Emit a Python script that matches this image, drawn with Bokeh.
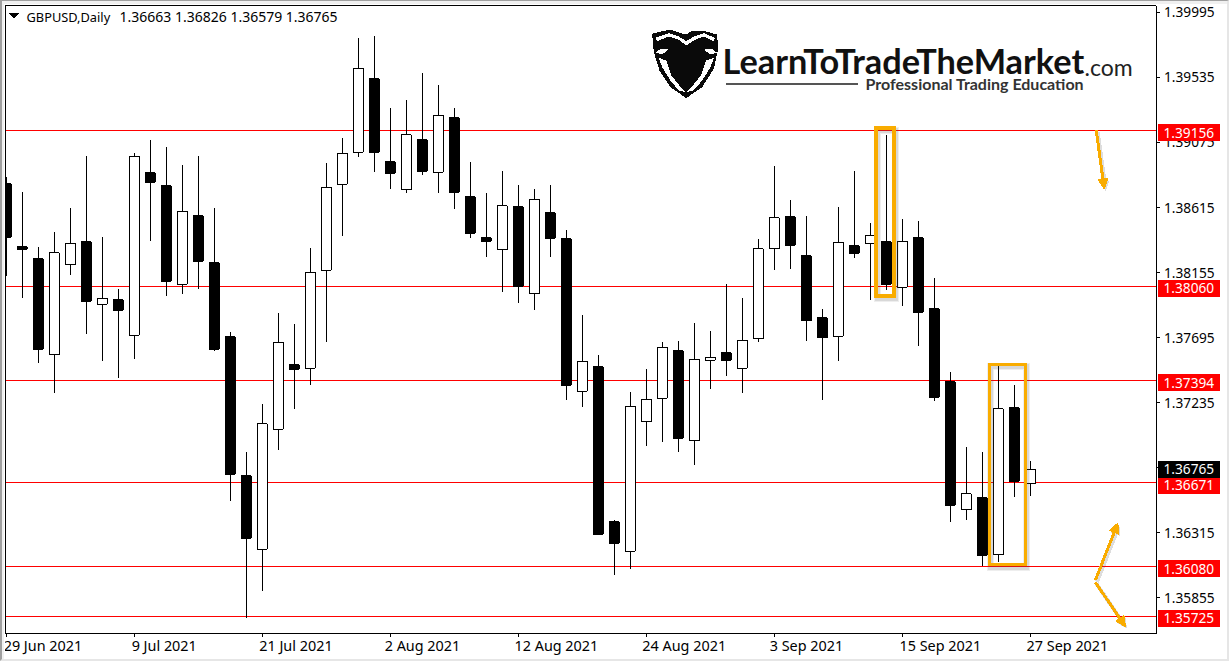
from bokeh.plotting import figure
from bokeh.models import Label, FixedTicker, Range1d, Arrow, NormalHead, PolyAnnotation, BoxAnnotation
from bokeh.embed import file_html
from bokeh.resources import INLINE

# ---------- data ----------
date_ticks = [0, 8, 16, 24, 32, 40, 48, 56, 64]
date_labels = ["29 Jun 2021", "9 Jul 2021", "21 Jul 2021", "2 Aug 2021", "12 Aug 2021",
               "24 Aug 2021", "3 Sep 2021", "15 Sep 2021", "27 Sep 2021"]
date_label_centres = [2.31, 9.89, 18.12, 26.03, 34.40, 42.39, 50.03, 58.40, 66.34]
body_top = [1.38783,1.38338,1.38253,1.38294,1.38364,1.38373,1.37975,1.37963,1.38979,1.38861,
            1.38769,1.38590,1.38557,1.38225,1.37702,1.36719,1.37085,1.37664,1.37504,1.38159,
            1.38760,1.39000,1.39601,1.39526,1.38939,1.39128,1.39094,1.39269,1.39250,1.38691,
            1.38402,1.38626,1.38621,1.38675,1.38578,1.38395,1.37530,1.37490,1.36394,1.37212,
            1.37261,1.37629,1.37603,1.37544,1.37558,1.37589,1.37678,1.38322,1.38541,1.38550,
            1.38274,1.37836,1.38371,1.38345,1.38416,1.38373,1.38378,1.38402,1.37900,1.37384,
            1.36590,1.36564,1.37191,1.37200,1.36765]
body_bot = [1.38404,1.38319,1.37612,1.37573,1.38209,1.37951,1.37933,1.37888,1.37711,1.38793,
            1.38093,1.38071,1.38234,1.37612,1.36728,1.36276,1.36198,1.37046,1.37471,1.37480,
            1.38173,1.38781,1.39007,1.39005,1.38856,1.38739,1.38870,1.38866,1.38722,1.38432,
            1.38375,1.38315,1.38057,1.38004,1.38397,1.37357,1.37318,1.36304,1.36241,1.36187,
            1.37099,1.37268,1.36983,1.36965,1.37537,1.37534,1.37480,1.37686,1.38322,1.38347,
            1.37815,1.37695,1.37704,1.38291,1.38364,1.38071,1.38053,1.37874,1.37273,1.36509,
            1.36477,1.36156,1.36159,1.36679,1.36663]
highs = [1.38833,1.38727,1.38338,1.38444,1.38614,1.38981,1.38409,1.38041,1.39002,1.39094,
         1.39045,1.38918,1.38981,1.38614,1.37732,1.36889,1.37228,1.37871,1.37794,1.38331,
         1.38932,1.39108,1.39815,1.39830,1.39321,1.39377,1.39568,1.39483,1.39321,1.38939,
         1.38720,1.38875,1.38776,1.38748,1.38776,1.38458,1.37857,1.37575,1.36408,1.37313,
         1.37476,1.37666,1.37673,1.37801,1.37744,1.38076,1.37977,1.38395,1.38911,1.38670,
         1.38557,1.37900,1.38621,1.38875,1.38508,1.39130,1.38536,1.38522,1.38119,1.37454,
         1.36924,1.36889,1.37497,1.37362,1.36826]
lows = [1.38128,1.37973,1.37513,1.37301,1.38135,1.37718,1.37527,1.37407,1.37541,1.38375,
        1.37987,1.38001,1.38036,1.37598,1.36538,1.35710,1.35901,1.36898,1.37188,1.37357,
        1.37661,1.38416,1.38969,1.38868,1.38743,1.38715,1.38842,1.38715,1.38602,1.38397,
        1.38262,1.38015,1.37937,1.37893,1.38262,1.37251,1.37202,1.36302,1.36014,1.36057,
        1.36926,1.36955,1.36884,1.36792,1.37329,1.37421,1.37301,1.37661,1.38170,1.38178,
        1.37669,1.37256,1.37527,1.38255,1.37958,1.38029,1.37916,1.37633,1.37249,1.36394,
        1.36403,1.36083,1.36111,1.36566,1.36579]
white = [0,0,0,1,1,0,1,0,1,0, 0,1,0,0,0,0,1,1,0,1, 1,1,1,0,0,1,0,1,0,0,
         0,1,0,1,0,0,1,0,0,1, 1,1,0,1,1,0,1,1,1,0, 0,0,1,0,1,0,1,0,0,0,
         1,0,1,0,1]
levels = [1.39156, 1.38060, 1.37394, 1.36671, 1.36080, 1.35725]
level_label_shift = [2.0, 2.0, 2.5, 2.5, 2.5, 2.0]
y_ticks = [1.39995, 1.39535, 1.39075, 1.38615, 1.38155, 1.37695, 1.37235, 1.36775, 1.36315, 1.35855]
last_price = 1.36765
ohlc_text = "1.36663 1.36826 1.36579 1.36765"
symbol_text = "GBPUSD,Daily"
# highlighted candles: left index, right index, top price, bottom price
hl_left = [54.40, 61.44]
hl_right = [55.47, 63.69]
hl_top = [1.39179, 1.37507]
hl_bottom = [1.37992, 1.36090]
hl_width = [4, 3]
# arrows: tail index, tail price, head index, head price
ar_x0 = [68.14, 68.09, 68.09]
ar_y0 = [1.39163, 1.35982, 1.35965]
ar_x1 = [68.64, 69.49, 69.97]
ar_y1 = [1.38746, 1.36385, 1.35652]

ORANGE = "#F9AC00"
FONT = "Noto Sans"
PRICE_FS = "13.7px"
W, H = 1229, 661
PANE_L, PANE_T, PANE_R, PANE_B = 4, 4, 1155, 632   # chart pane edges in page pixels
PX = 16.0                          # pixels per candle
PY = 0.00007069                    # price per pixel
BASE = 1.400785                    # price at the top of the page
x0 = -5.5 / PX
pane_right = (PANE_R + 0.5 - 5.5) / PX
pane_left = (PANE_L + 0.5 - 5.5) / PX
pane_bottom = BASE - (PANE_B + 0.5) * PY
pane_top = BASE - (PANE_T + 0.5) * PY

p = figure(width=W, height=H, output_backend="svg", toolbar_location=None,
           x_range=Range1d(x0, x0 + W / PX), y_range=Range1d(BASE - H * PY, BASE),
           y_axis_location="right", tools="")
p.min_border_left = p.min_border_top = p.min_border_right = p.min_border_bottom = 0
p.background_fill_color = "white"
p.border_fill_color = "white"
p.outline_line_color = None
p.grid.visible = False
p.stylesheets = [":host{shape-rendering:crispEdges}",
                 ":host::after{content:'';position:absolute;inset:0;border-style:solid;"
                 "border-width:1px 2px 2px 2px;border-color:#a0a0a0 #e6e6e6 #e6e6e6 #a0a0a0;"
                 "box-shadow:inset 2px 3px 0 #f0f0f0;pointer-events:none}"]

# axes: the left-aligned date labels are placed through centres, tick marks through the minor ticks
xa = p.xaxis[0]
xa.fixed_location = pane_bottom
xa.bounds = (pane_left, pane_right)
xa.ticker = FixedTicker(ticks=date_label_centres, minor_ticks=date_ticks)
xa.major_label_overrides = dict(zip(date_label_centres, date_labels))
xa.major_label_standoff = 0
xa.major_tick_out, xa.major_tick_in, xa.minor_tick_out, xa.minor_tick_in = 0, 0, 3, 0
xa.major_label_text_font_size = "14.4px"
xa.minor_tick_line_color = "black"
xa.major_tick_line_color = None
ya = p.yaxis[0]
ya.fixed_location = pane_right
ya.bounds = (pane_bottom, pane_top)
ya.ticker = FixedTicker(ticks=y_ticks)
ya.major_label_overrides = {t: f"{t:.5f}" for t in y_ticks}
ya.major_label_overrides[1.36775] = ""
ya.major_label_standoff = 5
ya.major_tick_out, ya.major_tick_in, ya.minor_tick_out, ya.minor_tick_in = 3, 0, 0, 0
ya.major_label_text_font_size = PRICE_FS
ya.major_tick_line_color = "black"
for a in (xa, ya):
    a.axis_line_color = "black"
    a.major_label_text_font = FONT
    a.major_label_text_color = "black"

# horizontal levels behind the candles
for lv in levels:
    p.segment([pane_left], [lv], [pane_right], [lv], line_color="#FF0000", line_width=1)

# candles
xs = list(range(len(white)))
p.segment(xs, highs, xs, lows, line_color="black", line_width=1)
up = [i for i in xs if white[i]]
dn = [i for i in xs if not white[i]]
BW = 10 / PX
p.vbar([xs[i] for i in up], BW, [body_top[i] for i in up], [body_bot[i] for i in up],
       fill_color="white", line_color="black", line_width=1)
p.vbar([xs[i] for i in dn], BW, [body_top[i] for i in dn], [body_bot[i] for i in dn],
       fill_color="black", line_color="black", line_width=1)

# highlight rectangles with soft shadow
for shadow_w, shadow_a in ((7, 0.10), (5, 0.14)):
    for i in range(2):
        p.quad(left=[hl_left[i] + 1.5 / PX], right=[hl_right[i] + 1.5 / PX],
               top=[hl_top[i] - 2.5 * PY], bottom=[hl_bottom[i] - 2.5 * PY],
               fill_alpha=0, line_color="#555555", line_alpha=shadow_a, line_width=shadow_w, line_join="miter")
for i in range(2):
    p.quad(left=[hl_left[i]], right=[hl_right[i]], top=[hl_top[i]], bottom=[hl_bottom[i]],
           fill_alpha=0, line_color=ORANGE, line_width=hl_width[i], line_join="miter")

# arrows
for i in range(3):
    p.add_layout(Arrow(x_start=ar_x0[i] + 1.5 / PX, y_start=ar_y0[i] - 2 * PY,
                       x_end=ar_x1[i] + 1.5 / PX, y_end=ar_y1[i] - 2 * PY,
                       line_color="#555555", line_alpha=0.2, line_width=4,
                       end=NormalHead(size=10, fill_color="#555555", fill_alpha=0.2, line_alpha=0)))
    p.add_layout(Arrow(x_start=ar_x0[i], y_start=ar_y0[i], x_end=ar_x1[i], y_end=ar_y1[i],
                       line_color=ORANGE, line_width=3,
                       end=NormalHead(size=10, fill_color=ORANGE, line_color=ORANGE, line_width=1)))

def canvas_box(l, r, t, b, color):
    p.add_layout(BoxAnnotation(left=l, right=r, top=t, bottom=b, left_units="canvas", right_units="canvas",
                               top_units="canvas", bottom_units="canvas", fill_color=color, fill_alpha=1, line_alpha=0))

# pane edge: hides what lies left of the pane, draws its left and top lines
canvas_box(0, PANE_L, 0, H, "white")
canvas_box(PANE_L, PANE_L + 1, PANE_T, PANE_B + 1, "black")
canvas_box(PANE_L, PANE_R, PANE_T, PANE_T + 1, "black")

# price labels on the axis
def price_label(price, bg, shift):
    p.add_layout(BoxAnnotation(left=1157, right=1219, left_units="canvas", right_units="canvas",
                               top=price + (8.5 - shift) * PY, bottom=price - (8.5 + shift) * PY,
                               fill_color=bg, fill_alpha=1, line_alpha=0))
    p.add_layout(Label(x=1163, y=price, x_units="canvas", y_units="data", text=f"{price:.5f}",
                       y_offset=-shift, text_color="white", text_font=FONT, text_font_size=PRICE_FS,
                       text_align="left", text_baseline="middle"))
for lv, sh in zip(levels, level_label_shift):
    price_label(lv, "#FF0000", sh)
price_label(last_price, "#000000", 0)

def canvas_text(x, y, text, size, style="normal", color="black", font=FONT):
    p.add_layout(Label(x=x, y=y, x_units="canvas", y_units="canvas", text=text, text_color=color,
                       text_font=font, text_font_size=size, text_font_style=style,
                       text_align="left", text_baseline="middle"))

canvas_text(26, 16, symbol_text, "12.8px")
canvas_text(119, 16, ohlc_text, "14px")
p.add_layout(PolyAnnotation(xs=[8, 19, 13.5], ys=[12, 12, 18], xs_units="canvas", ys_units="canvas",
                            fill_color="black", fill_alpha=1, line_alpha=0))

# logo
canvas_text(722, 60, "LearnToTradeTheMarket", "34.3px", "bold", "#111111", "Lato")
canvas_text(1084, 66, ".com", "23px", "normal", "#222222", "Lato")
canvas_text(865, 83, "Professional Trading Education", "16px", "bold", "#333333", "Lato")
canvas_box(725, 857, 82, 84, "#555555")

def logo_poly(pts, color):
    p.add_layout(PolyAnnotation(xs=[645 + a / 3 for a, b in pts], ys=[20 + b / 3 for a, b in pts],
                                xs_units="canvas", ys_units="canvas", fill_color=color, fill_alpha=1, line_alpha=0))
logo_poly([(20,40),(45,33),(75,27),(105,38),(122,42),(140,30),(170,30),(215,42),(218,85),(205,145),
           (170,200),(122,233),(75,200),(42,150),(25,95)], "#0a0a0a")
logo_poly([(30,52),(70,38),(100,48),(122,62),(145,48),(175,38),(208,52),(205,62),(175,48),(148,58),
           (122,75),(100,58),(70,48),(35,62)], "white")
logo_poly([(28,98),(45,85),(68,85),(60,95),(50,100)], "white")
logo_poly([(216,98),(199,85),(176,85),(184,95),(194,100)], "white")
logo_poly([(40,112),(62,120),(78,165),(110,205),(122,215),(100,210),(75,180),(50,140)], "white")
logo_poly([(205,112),(182,120),(166,165),(134,205),(122,215),(144,210),(170,180),(195,140)], "white")

open("out.html", "w").write(file_html(p, INLINE))
